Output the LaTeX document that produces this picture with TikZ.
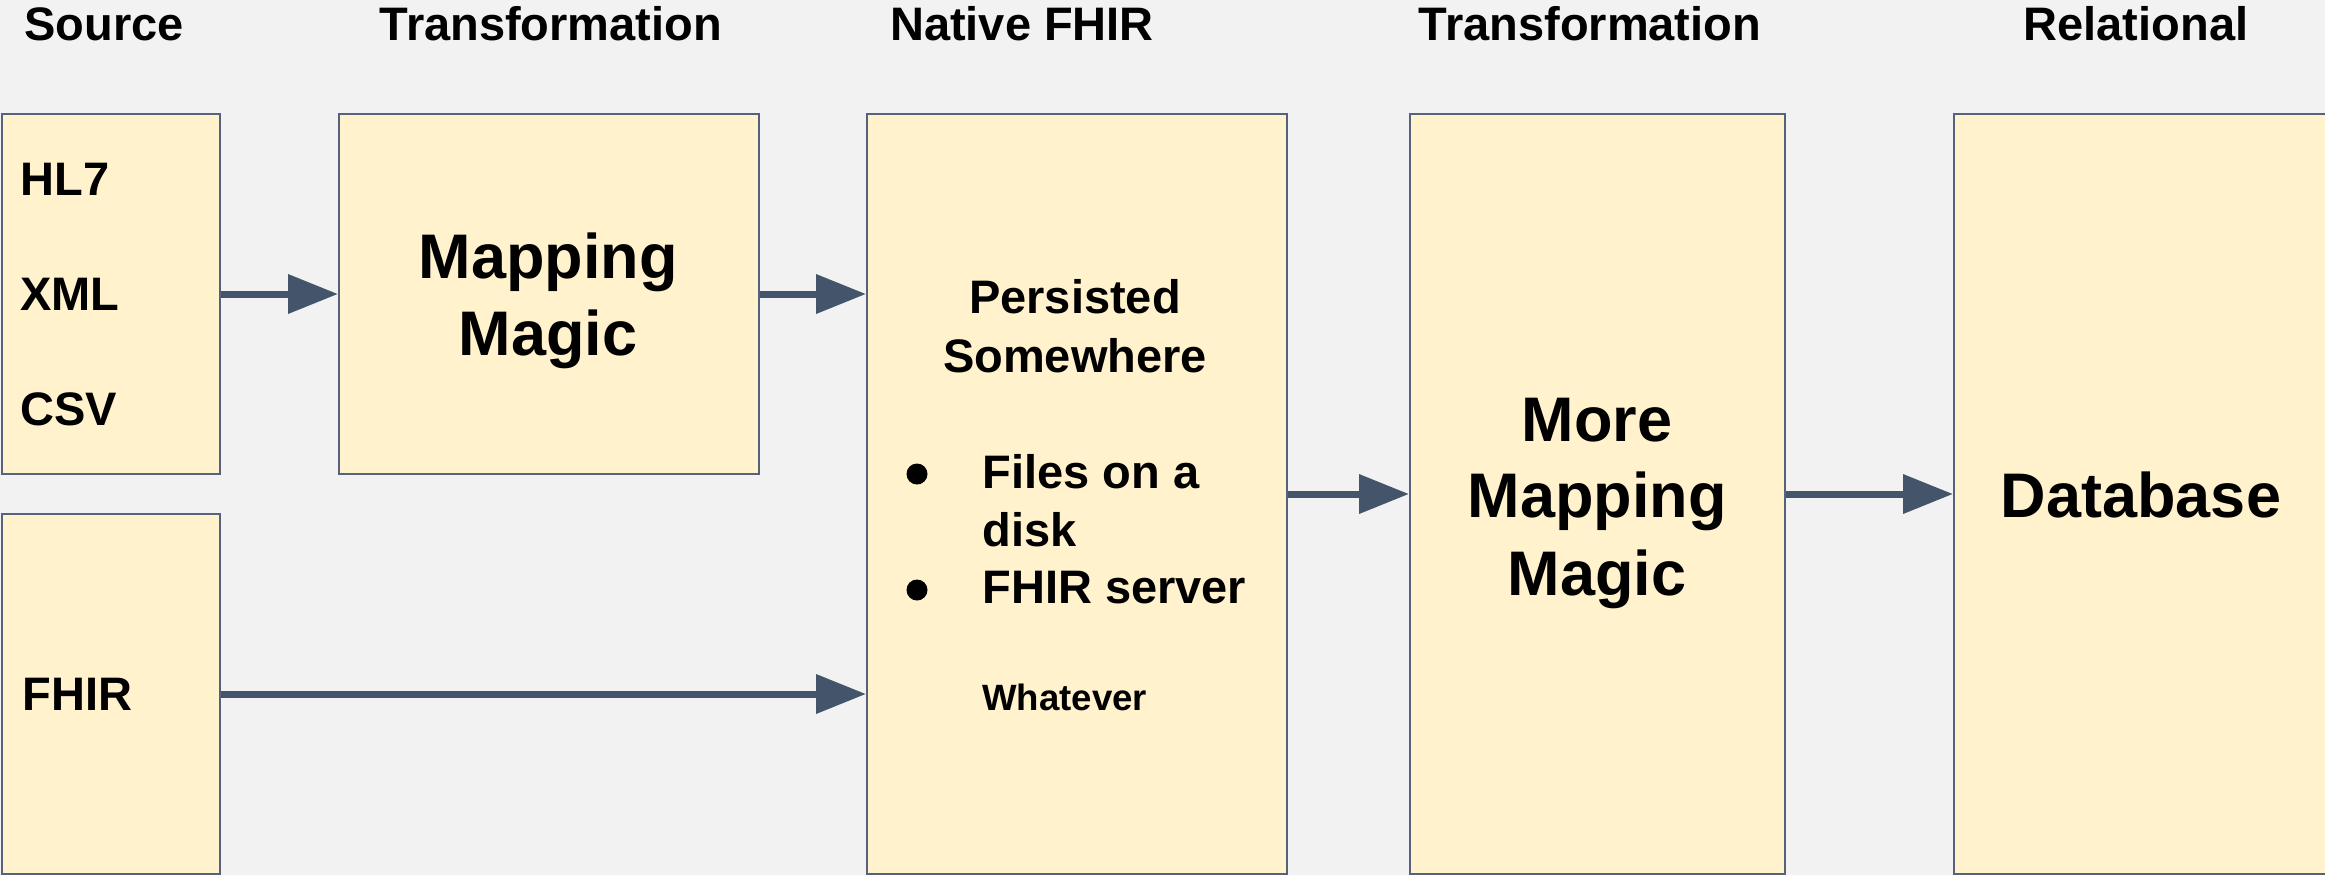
\documentclass[tikz,border=0pt]{standalone}
\usepackage{fontspec}
\setmainfont{Liberation Sans}
\usetikzlibrary{arrows.meta}
\definecolor{bg}{HTML}{F2F2F2}
\definecolor{boxfill}{HTML}{FFF2CC}
\definecolor{slate}{HTML}{44546A}
\definecolor{edge}{HTML}{56627A}

\tikzset{
  stage/.style={draw=edge, line width=1pt, fill=boxfill, rectangle,
    inner sep=0pt, anchor=north west},
  flow/.style={draw=slate, line width=3.5pt,
    -{Triangle[length=25pt,width=19pt]}},
  ttl/.style={inner sep=0pt, anchor=base,
    font=\fontsize{23.5}{28}\selectfont\bfseries},
  lab/.style={inner sep=0pt, anchor=base west,
    font=\fontsize{23.5}{28}\selectfont\bfseries},
  midlab/.style={inner sep=0pt, anchor=base,
    font=\fontsize{23.5}{28}\selectfont\bfseries},
  big/.style={inner sep=0pt, anchor=base,
    font=\fontsize{31.5}{38}\selectfont\bfseries},
  note/.style={inner sep=0pt, anchor=base west,
    font=\fontsize{18.3}{22}\selectfont\bfseries},
  dot/.style={circle, fill=black, inner sep=0pt, minimum size=10.5pt}
}

\begin{document}
\begin{tikzpicture}[x=0.5pt, y=-0.5pt]
  % canvas
  \useasboundingbox (0,0) rectangle (2325,875);
  \fill[bg] (0,0) rectangle (2325,875);

  % column headings
  \node[ttl] (hSource) at (104,40)  {Source};
  \node[ttl] (hTrans1) at (551,40)  {Transformation};
  \node[ttl] (hNative) at (1022,40) {Native FHIR};
  \node[ttl] (hTrans2) at (1590,40) {Transformation};
  \node[ttl] (hRel)    at (2136,40) {Relational};

  % stage boxes
  \node[stage, minimum width=109pt, minimum height=180pt] (src)    at (1,113)    {};
  \node[stage, minimum width=210pt, minimum height=180pt] (map)    at (338,113)  {};
  \node[stage, minimum width=109pt, minimum height=180pt] (fhir)   at (1,513)    {};
  \node[stage, minimum width=210pt, minimum height=380pt] (native) at (866,113)  {};
  \node[stage, minimum width=187.5pt, minimum height=380pt] (more) at (1409,113) {};
  \node[stage, minimum width=190pt, minimum height=380pt] (db)     at (1953,113) {};

  % source formats
  \node[lab] (tHL7) at (20,195) {HL7};
  \node[lab] (tXML) at (20,310) {XML};
  \node[lab] (tCSV) at (20,425) {CSV};
  \node[lab] (tFHIR) at (22,710) {FHIR};

  % first transformation
  \node[big] (tMap1) at (548,278) {Mapping};
  \node[big] (tMag1) at (548,355) {Magic};

  % native FHIR store
  \node[midlab] (tPers) at (1075,313) {Persisted};
  \node[midlab] (tSome) at (1075,372) {Somewhere};
  \node[dot] (b1) at (917,474) {};
  \node[lab] (tFiles) at (982,488) {Files on a};
  \node[lab] (tDisk)  at (982,546) {disk};
  \node[dot] (b2) at (917,590) {};
  \node[lab] (tServ)  at (982,603) {FHIR server};
  \node[note] (tWhat) at (982,710) {Whatever};

  % second transformation
  \node[big] (tMore) at (1597,441) {More};
  \node[big] (tMap2) at (1597,517) {Mapping};
  \node[big] (tMag2) at (1597,595) {Magic};

  % relational target
  \node[big] (tDB) at (2141,517) {Database};

  % data flow
  \draw[flow] (src.east) -- (map.west);
  \draw[flow] (map.east) -- (map.east -| native.west);
  \draw[flow] (fhir.east) -- (fhir.east -| native.west);
  \draw[flow] (native.east) -- (more.west);
  \draw[flow] (more.east) -- (db.west);
\end{tikzpicture}
\end{document}
